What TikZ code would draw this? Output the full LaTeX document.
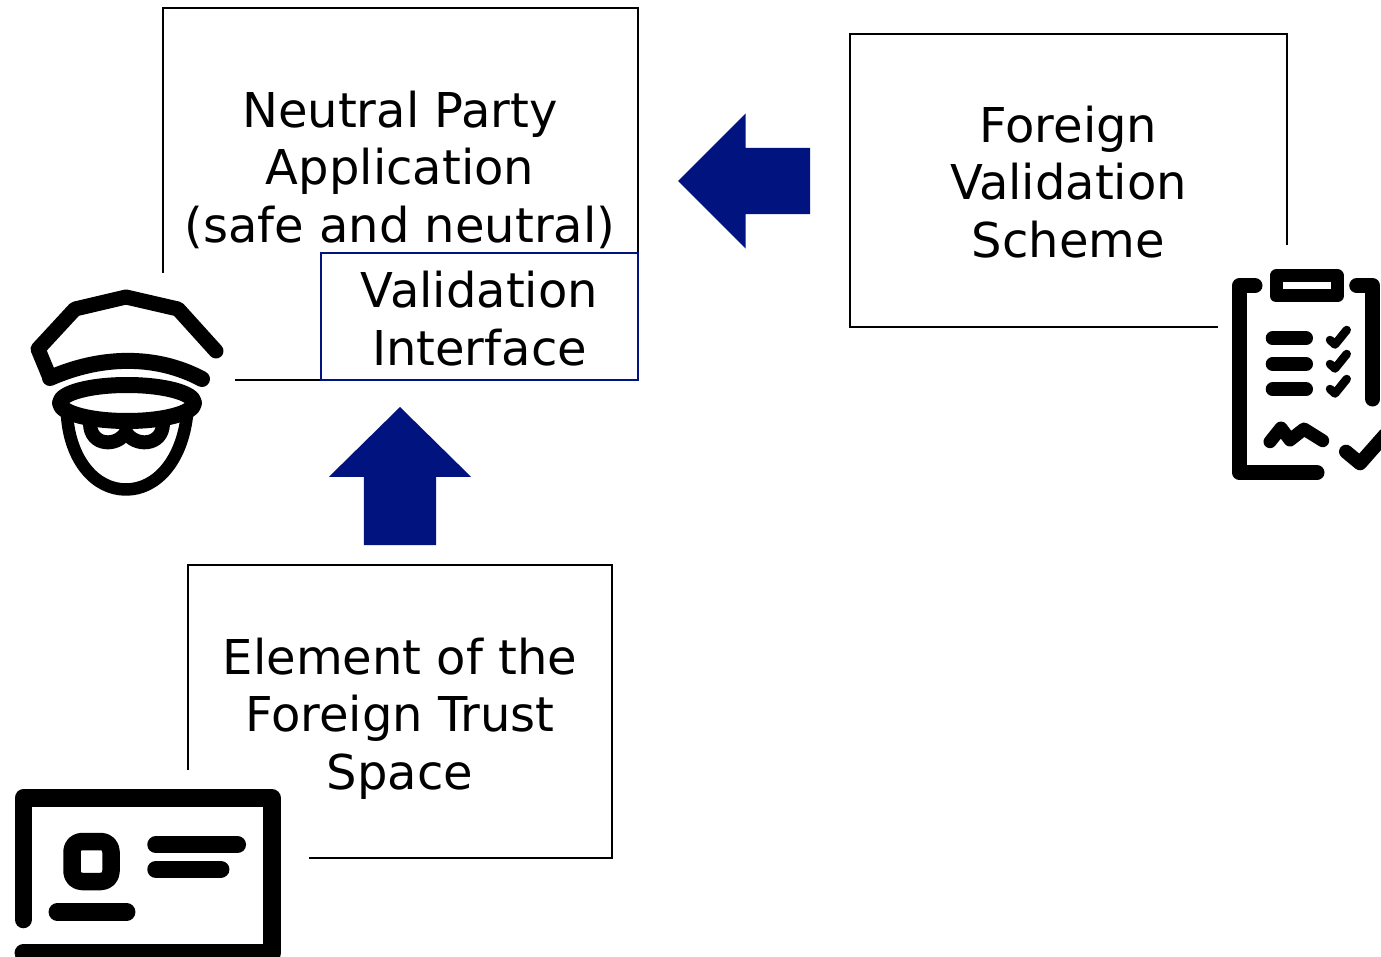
\documentclass[tikz,border=0pt]{standalone}
\usepackage{fontspec}
\setmainfont{DejaVu Sans}
\usetikzlibrary{positioning,shapes.arrows}
\definecolor{navyx}{HTML}{00137F}

\tikzset{
    boxnode/.style={draw,line width=2pt,inner sep=0pt,outer sep=0pt},
    textnode/.style={inner sep=0pt,align=center,font=\fontsize{48}{57.5}\selectfont},
    patch/.style={fill=white,draw=none},
    bluearrow/.style={single arrow,fill=navyx,outer sep=0pt,anchor=tip,
        single arrow head indent=0pt},
    icon/.style={draw=black,line cap=round,line join=round}
}

\begin{document}
\begin{tikzpicture}[x=1pt,y=-1pt]
    \clip (0,0) rectangle (1381,957);

    \node (neutral) [boxnode,minimum width=475pt,minimum height=372pt] at (400,194) {};
    \node (neutraltext) [textnode] at (400,169.5) {Neutral Party\\Application\\(safe and neutral)};
    \node (interface) [boxnode,draw=navyx,anchor=south east,minimum width=317pt,minimum height=127pt]
        at (neutral.south east) {};
    \node (interfacetext) [textnode] at (479.5,318.5) {Validation\\Interface};
    \node (foreign) [boxnode,minimum width=437pt,minimum height=293pt] at (1068.5,180.5) {};
    \node (foreigntext) [textnode] at (1068.5,182) {Foreign\\Validation\\Scheme};
    \node (element) [boxnode,minimum width=424pt,minimum height=293pt] at (400,711.5) {};
    \node (elementtext) [textnode] at (400,718.5) {Element of the\\Foreign Trust\\Space};

    % arrows
    \node (uparrow) [bluearrow,shape border rotate=90,inner xsep=36pt,inner ysep=0pt,minimum height=138pt,
        minimum width=142pt,single arrow head extend=35pt,single arrow tip angle=91] at (400,407) {};
    \node (leftarrow) [bluearrow,shape border rotate=180,inner ysep=33pt,inner xsep=0pt,minimum height=132pt,
        minimum width=135pt,single arrow head extend=34.5pt,single arrow tip angle=90] at (678,181) {};

    % officer
    \fill [patch] (0,273) rectangle (235,510);
    \draw [icon,line width=15pt] (216,351) -- (178,309) -- (126,297) -- (75,309) -- (38,349) -- (50,378);
    \draw [icon,line width=16pt] (50,378) .. controls (100,356) and (155,354) .. (202,379);
    \draw [icon,line width=16pt] (127,403) ellipse [x radius=67,y radius=18];
    \draw [icon,line width=12.5pt] (67,415) .. controls (70,460) and (95,489.5) .. (126,489.5)
        .. controls (157,489.5) and (182,460) .. (187,415);
    \draw [icon,line width=14pt] (90,423) .. controls (90,447) and (118,447) .. (126,432)
        .. controls (134,447) and (163,447) .. (163,423);

    % clipboard
    \fill [patch] (1218,245) rectangle (1381,500);
    \draw [icon,line width=15pt] (1255,285.7) -- (1239.5,285.7) -- (1239.5,472.7) -- (1317,472.7);
    \draw [icon,line width=15pt] (1356.7,285.7) -- (1372.7,285.7) -- (1372.7,399);
    \draw [icon,line width=13pt] (1276,276) rectangle (1337.5,296);
    \foreach \ypos in {338.3,364,389.3} {
        \draw [icon,line width=14pt] (1272.7,\ypos) -- (1306,\ypos);
    }
    \foreach \yshift in {0,24,49} {
        \draw [icon,line width=8.5pt] (1330,340+\yshift) -- (1335,344.5+\yshift) -- (1346.7,330+\yshift);
    }
    \draw [icon,line width=13pt] (1270,441.7) -- (1281,428) -- (1290,440) -- (1304,429) -- (1322.7,440.7);
    \draw [icon,line width=14pt] (1346,451.7) -- (1360,463.3) -- (1385,435);

    % id card
    \fill [patch] (0,770) rectangle (309,957);
    \draw [icon,line width=17.5pt] (23.3,919.5) -- (23.3,798) -- (272,798) -- (272,953) -- (23.3,953);
    \draw [icon,line width=17.5pt,rounded corners=10pt] (72,841.5) rectangle (111,881.5);
    \draw [icon,line width=17.5pt] (156,844.7) -- (237.3,844.7);
    \draw [icon,line width=17.5pt] (156,869.3) -- (220.7,869.3);
    \draw [icon,line width=17.5pt] (57.3,912) -- (126.7,912);
\end{tikzpicture}
\end{document}
